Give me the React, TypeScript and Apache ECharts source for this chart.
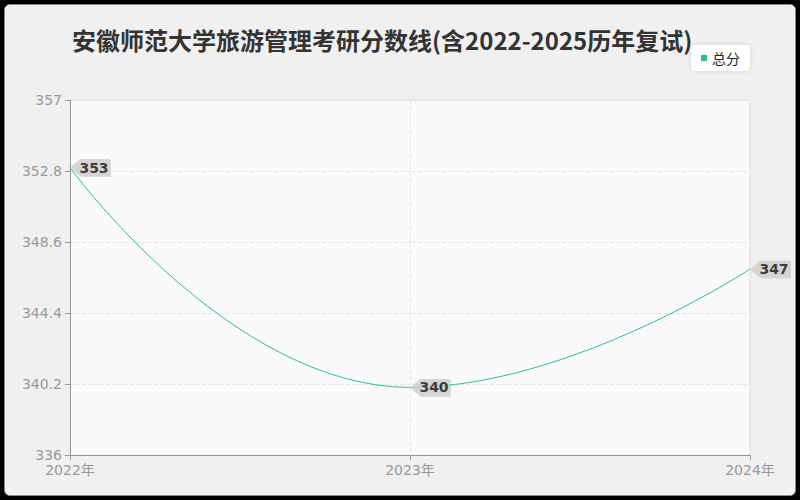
import React, { useEffect, useRef } from 'react';
import * as echarts from 'echarts';

const years = ['2022年', '2023年', '2024年'];
const totalScores = [353, 340, 347];
const yMin = 336;
const yMax = 357;
const yStep = 4.2;

const LINE_COLOR = '#2fbf8f';

const App: React.FC = () => {
  const chartRef = useRef<HTMLDivElement>(null);

  useEffect(() => {
    if (!chartRef.current) return;
    const chart = echarts.init(chartRef.current, undefined, { renderer: 'svg' });

    const option: echarts.EChartsOption = {
      animation: false,
      backgroundColor: '#f0f0f0',
      title: {
        text: '安徽师范大学旅游管理考研分数线(含2022-2025历年复试)',
        left: 62,
        top: 17,
        textStyle: {
          fontFamily: 'Noto Sans CJK SC',
          fontSize: 24,
          fontWeight: 'bold',
          color: '#333'
        }
      },
      legend: {
        data: ['总分'],
        right: 45,
        top: 40,
        icon: 'rect',
        itemWidth: 6,
        itemHeight: 6,
        itemGap: 4,
        padding: [6, 10],
        backgroundColor: '#fff',
        borderRadius: 4,
        shadowColor: 'rgba(0,0,0,0.12)',
        shadowBlur: 4,
        textStyle: { fontFamily: 'Noto Sans CJK SC', fontSize: 14, color: '#222' }
      },
      grid: {
        left: 65,
        right: 45,
        top: 95,
        bottom: 40,
        show: true,
        backgroundColor: '#fafafa',
        borderColor: '#e2e2e2',
        borderWidth: 1
      },
      xAxis: {
        type: 'category',
        data: years,
        boundaryGap: false,
        axisLine: { lineStyle: { color: '#999' } },
        axisTick: { show: true, lineStyle: { color: '#999' } },
        axisLabel: { color: '#999', fontSize: 14, fontFamily: 'DejaVu Sans, Noto Sans CJK SC' },
        splitLine: { show: true, lineStyle: { type: 'dashed', color: '#e4e4e4' } }
      },
      yAxis: {
        type: 'value',
        min: yMin,
        max: yMax,
        interval: yStep,
        axisLine: { show: true, lineStyle: { color: '#999' } },
        axisTick: { show: true, lineStyle: { color: '#999' } },
        axisLabel: { color: '#999', fontSize: 14, fontFamily: 'DejaVu Sans' },
        splitLine: { show: true, lineStyle: { type: 'dashed', color: '#e4e4e4' } }
      },
      series: [
        {
          name: '总分',
          type: 'line',
          data: totalScores,
          smooth: true,
          symbol: 'none',
          itemStyle: { color: LINE_COLOR },
          lineStyle: { color: LINE_COLOR, width: 1 }
        },
        {
          name: 'tags',
          type: 'scatter',
          data: totalScores,
          symbol: 'path://M0,85 L100,0 L400,0 L400,170 L100,170 Z',
          symbolKeepAspect: false,
          symbolSize: [40, 17],
          symbolOffset: [20, 0],
          itemStyle: {
            color: '#d0d0d0',
            shadowColor: 'rgba(0,0,0,0.15)',
            shadowBlur: 0,
            shadowOffsetX: 1,
            shadowOffsetY: 1
          },
          silent: true,
          label: {
            show: true,
            position: 'inside',
            offset: [4, 0],
            color: '#111',
            fontSize: 14,
            fontWeight: 'bold',
            fontFamily: 'DejaVu Sans'
          },
          z: 5
        }
      ]
    };

    chart.setOption(option);
    return () => chart.dispose();
  }, []);

  return (
    <div style={{ position: 'fixed', inset: 0, background: '#000', padding: 4, boxSizing: 'border-box' }}>
      <div
        style={{
          width: '100%',
          height: '100%',
          border: '1px solid #8a8a8a',
          borderRadius: 6,
          overflow: 'hidden',
          boxSizing: 'border-box',
          background: '#f0f0f0'
        }}
      >
        <div ref={chartRef} style={{ width: 790, height: 490 }} />
      </div>
    </div>
  );
};

export default App;
